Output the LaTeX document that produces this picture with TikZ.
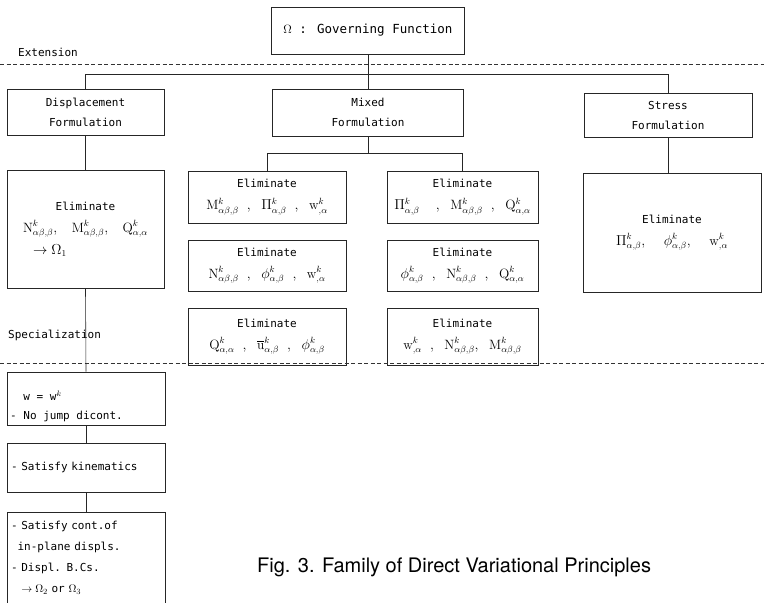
\documentclass[tikz,border=0pt]{standalone}
\usepackage{amsmath,amssymb}
\usepackage{fontspec}
\newfontfamily\boxfont{DejaVu Sans Mono}
\newfontfamily\capfont{TeX Gyre Heros}
\usetikzlibrary{positioning, calc}
\newcommand{\elv}[2]{\mathrm{#1}^{k}_{#2}}
\newcommand{\mline}[1]{{\fontsize{13.5}{22}\selectfont$#1$}}

\begin{document}
\begin{tikzpicture}[x=1pt, y=-1pt,
	box/.style={draw=black!85, line width=0.6pt, align=center, inner sep=0pt, font=\boxfont\fontsize{11}{20}\selectfont},
	elim/.style={box, font=\boxfont\fontsize{11}{22}\selectfont},
	spbox/.style={box, align=left, text width=150pt, minimum width=158pt, font=\boxfont\fontsize{11}{21}\selectfont},
	tag/.style={font=\boxfont\fontsize{11}{13}\selectfont, inner sep=0pt, anchor=west},
	link/.style={draw=black!85, line width=0.6pt},
	divider/.style={draw=black!80, line width=0.6pt, dash pattern=on 4pt off 2.5pt}]
\useasboundingbox (0,0) rectangle (764,603);

\node[box, minimum width=193pt, minimum height=47pt, font=\boxfont\fontsize{12.5}{15}\selectfont] (omega) at (368,30.5) {$\Omega$ : Governing Function};

\node[tag] (ext) at (18,52) {Extension};
\coordinate (extL) at (0,64);
\coordinate (extR) at (764,64);
\draw[divider] (extL) -- (extR);

\node[box, minimum width=157pt, minimum height=46pt] (disp) at (85.5,112) {Displacement\\Formulation};
\node[box, minimum width=191pt, minimum height=47pt] (mixed) at (368,112.5) {Mixed\\Formulation};
\node[box, minimum width=168pt, minimum height=44pt] (stress) at (668,115) {Stress\\Formulation};

\node[elim, minimum width=157pt, minimum height=118pt] (delim) at (85.5,229) {Eliminate\\\mline{\elv{N}{\alpha\beta,\beta},\;\ \elv{M}{\alpha\beta,\beta},\;\ \elv{Q}{\alpha,\alpha}}\\\makebox[105pt][l]{\mline{\rightarrow\Omega_1}}};

\node[elim, minimum width=158pt, minimum height=52pt] (m1) at (267,197) {Eliminate\\\mline{\elv{M}{\alpha\beta,\beta}\ ,\ \Pi^k_{\alpha,\beta}\ ,\ \elv{w}{,\alpha}}};
\node[elim, minimum width=158pt, minimum height=51pt] (m2) at (267,265.5) {Eliminate\\\mline{\elv{N}{\alpha\beta,\beta}\ ,\ \phi^k_{\alpha,\beta}\ ,\ \elv{w}{,\alpha}}};
\node[elim, minimum width=158pt, minimum height=57pt] (m3) at (267,336.5) {Eliminate\\\mline{\elv{Q}{\alpha,\alpha}\ ,\ \overline{\mathrm{u}}^k_{\alpha,\beta}\ ,\ \phi^k_{\alpha,\beta}}};
\node[elim, minimum width=151pt, minimum height=52pt] (m4) at (462.5,197) {Eliminate\\\mline{\Pi^k_{\alpha,\beta}\ \ ,\ \elv{M}{\alpha\beta,\beta}\ ,\ \elv{Q}{\alpha,\alpha}}};
\node[elim, minimum width=151pt, minimum height=51pt] (m5) at (462.5,265.5) {Eliminate\\\mline{\phi^k_{\alpha,\beta}\ ,\ \elv{N}{\alpha\beta,\beta}\ ,\ \elv{Q}{\alpha,\alpha}}};
\node[elim, minimum width=151pt, minimum height=57pt] (m6) at (462.5,336.5) {Eliminate\\\mline{\elv{w}{,\alpha}\ ,\ \elv{N}{\alpha\beta,\beta},\ \elv{M}{\alpha\beta,\beta}}};

\node[elim, minimum width=178pt, minimum height=119pt] (selim) at (672,232.5) {Eliminate\\\mline{\Pi^k_{\alpha,\beta},\ \ \phi^k_{\alpha,\beta},\ \ \elv{w}{,\alpha}}};

\node[tag] (spec) at (8,335) {Specialization};
\coordinate (specL) at (0,363);
\coordinate (specR) at (764,363);
\draw[divider] (specL) -- (specR);

\node[box, minimum width=158pt, minimum height=53pt] (spA) at (86,398.5) {};
\node[tag, align=left, font=\boxfont\fontsize{11}{19}\selectfont] (spAtext) at (10,406.5) {\hphantom{- }w = w$^{k}$\\- No jump dicont.};
\node[spbox, minimum height=49pt] (spB) at (86,467.5) {- Satisfy kinematics};
\node[spbox, minimum height=91pt] (spC) at (86,557.5) {- Satisfy cont.of\\\hphantom{-}in-plane displs.\\- Displ. B.Cs.\\\hphantom{- }$\rightarrow\Omega_2$ or $\Omega_3$};

\node[anchor=west, inner sep=0pt, font=\capfont\fontsize{20}{24}\selectfont] (caption) at (257,567) {Fig. 3. Family of Direct Variational Principles};

\coordinate (bus) at (0,74);
\coordinate (mbus) at (0,153);
\draw[link] (omega.south) -- (mixed.north);
\draw[link] (disp.north) |- (bus -| stress.north) -- (stress.north);
\draw[link] (mixed.south) -- (mixed.south |- mbus);
\draw[link] (m1.north) |- (mbus -| m4.north) -- (m4.north);
\draw[link] (disp.south) -- (delim.north);
\draw[link] (stress.south) -- (stress.south |- selim.north);
\draw[link] (delim.south) -- (spA.north);
\draw[link] (spA.south) -- (spB.north);
\draw[link] (spB.south) -- (spC.north);
\end{tikzpicture}
\end{document}
